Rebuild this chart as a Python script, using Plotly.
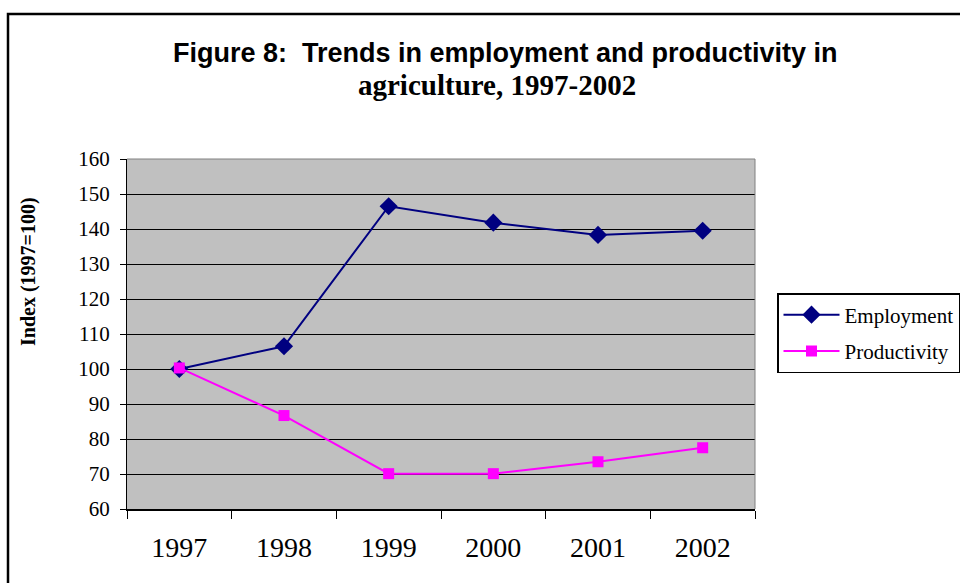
import plotly.graph_objects as go

years = ["1997", "1998", "1999", "2000", "2001", "2002"]
employment = [100.0, 106.5, 146.5, 141.8, 138.3, 139.5]
productivity = [100.3, 86.7, 70.1, 70.1, 73.5, 77.5]
y_ticks = [60, 70, 80, 90, 100, 110, 120, 130, 140, 150, 160]

W, H = 960, 583
L, R, T, B = 127, 205, 159, 74
pw, ph = W - L - R, H - T - B

def px(x):
    return (x - L) / pw

def py(y):
    return (H - B - y) / ph

fig = go.Figure()
fig.add_trace(go.Scatter(
    x=years, y=employment, name="Employment", mode="lines+markers",
    line=dict(color="#000080", width=2),
    marker=dict(symbol="diamond", size=14, color="#000080"),
    legendgroup="a"))
fig.add_trace(go.Scatter(
    x=years, y=productivity, name="Productivity", mode="lines+markers",
    line=dict(color="#FF00FF", width=2),
    marker=dict(symbol="square", size=11, color="#FF00FF"),
    legendgroup="b"))

fig.update_layout(
    width=W, height=H,
    margin=dict(l=L, r=R, t=T, b=B, autoexpand=False),
    paper_bgcolor="white", plot_bgcolor="#C0C0C0",
    showlegend=True,
    legend=dict(
        x=px(777), y=py(293), xanchor="left", yanchor="top",
        bgcolor="white", bordercolor="black", borderwidth=1.5,
        font=dict(family="Liberation Serif", size=21, color="black"),
        itemwidth=56, tracegroupgap=6),
    font=dict(family="Liberation Serif", color="black"),
)
fig.update_xaxes(
    type="category", range=[-0.5, 5.5], tickson="boundaries", ticks="outside", ticklen=8,
    tickcolor="black", showline=True, linecolor="black", linewidth=1.5,
    showgrid=False, tickfont=dict(family="Liberation Serif", size=28),
    ticklabelstandoff=13, mirror=False)
fig.update_yaxes(
    range=[60, 160], tickvals=y_ticks, ticks="outside", ticklen=6,
    tickcolor="black", showline=True, linecolor="black", linewidth=1,
    showgrid=True, gridcolor="black", gridwidth=1,
    tickfont=dict(family="Liberation Serif", size=21), zeroline=False,
    ticklabelstandoff=6)

# y-axis title placed as in the reference
fig.add_annotation(text="<b>Index (1997=100)</b>", textangle=-90,
                   xref="paper", yref="paper", x=px(28), y=py(272),
                   showarrow=False, xanchor="center", yanchor="middle",
                   font=dict(family="Liberation Serif", size=20, color="black"))

# plot-area gray border top/right
fig.add_shape(type="line", xref="paper", yref="paper", x0=0, x1=1, y0=1, y1=1,
              line=dict(color="#808080", width=1))
fig.add_shape(type="line", xref="paper", yref="paper", x0=1, x1=1, y0=0, y1=1,
              line=dict(color="#808080", width=1))
# outer chart frame
fig.add_shape(type="rect", xref="paper", yref="paper",
              x0=px(8), x1=px(975), y0=py(600), y1=py(14),
              line=dict(color="black", width=2.5), fillcolor="rgba(0,0,0,0)")

fig.add_annotation(text="<b>Figure 8:  Trends in employment and productivity in</b>",
                   xref="paper", yref="paper", x=px(505), y=py(53),
                   showarrow=False, xanchor="center", yanchor="middle",
                   font=dict(family="Liberation Sans", size=27, color="black"))
fig.add_annotation(text="<b>agriculture, 1997-2002</b>",
                   xref="paper", yref="paper", x=px(497), y=py(85),
                   showarrow=False, xanchor="center", yanchor="middle",
                   font=dict(family="Liberation Serif", size=29, color="black"))

fig.write_html("out.html")
